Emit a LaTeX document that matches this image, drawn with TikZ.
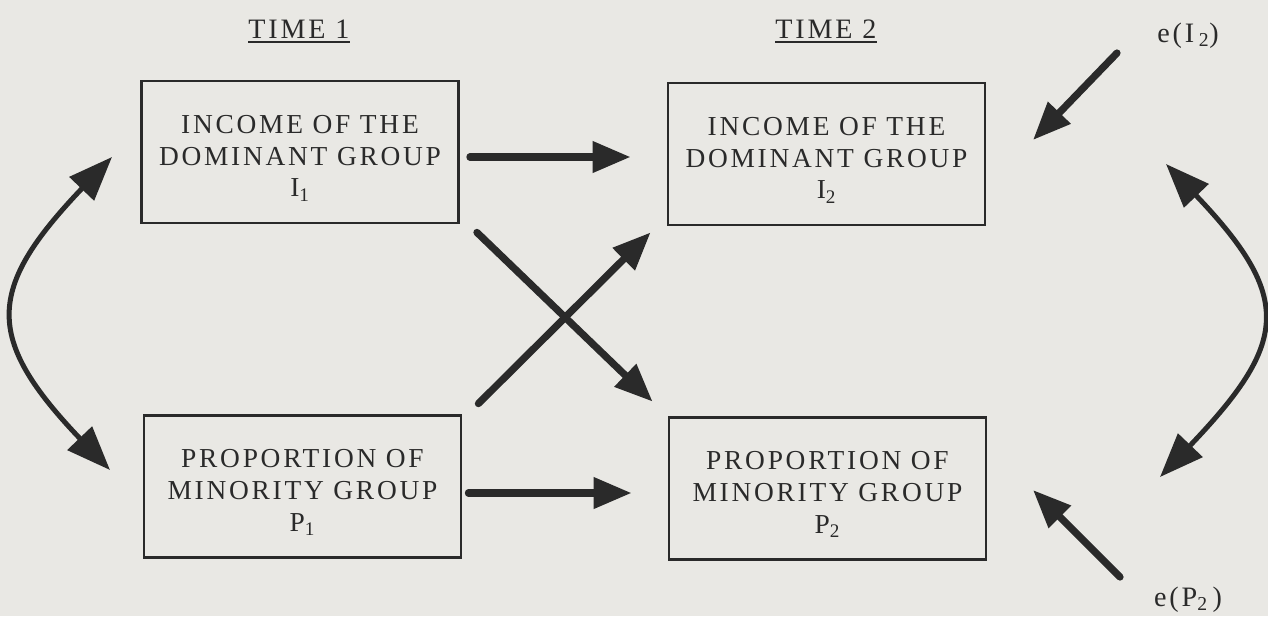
\documentclass[tikz,border=0pt]{standalone}
\usepackage{fontspec}
\setmainfont{Liberation Serif}
\newfontfamily\figfont[LetterSpace=10]{Liberation Serif}
\usetikzlibrary{arrows.meta}

\definecolor{paper}{HTML}{E9E8E4}
\definecolor{ink}{HTML}{2A2A2A}

% first line of a box sits a bit lower than the centre
\newcommand{\boxtop}{\rule{0pt}{7.6mm}}

\tikzset{
	box/.style={draw=ink, line width=2pt, minimum width=79.25mm, minimum height=35.5mm, inner sep=0pt, align=center, text=ink, font=\figfont\fontsize{19.5}{22.7}\selectfont},
	lbl/.style={anchor=base, inner sep=0pt, text=ink, font=\figfont\fontsize{20}{24}\selectfont},
	arr/.style={draw=ink, line width=1.8mm, line cap=round, -{Triangle[length=9.5mm, width=7.5mm]}},
	curv/.style={draw=ink, line width=1.25mm, {Triangle[length=11mm, width=8.3mm]}-{Triangle[length=11mm, width=8.3mm]}},
}

\begin{document}
\begin{tikzpicture}[x=0.25mm, y=-0.25mm]
	\path [use as bounding box, fill=paper] (0,0) rectangle (1268,616);

	\node [lbl] (T1) at (299,38) {TIME\ 1};
	\node [lbl] (T2) at (826,38) {TIME\ 2};
	\draw [ink, line width=1.5pt] ([yshift=-1mm]T1.base west) -- ([yshift=-1mm]T1.base east);
	\draw [ink, line width=1.5pt] ([yshift=-1mm]T2.base west) -- ([yshift=-1mm]T2.base east);

	\node [box] (I1) at (300,152) {\boxtop INCOME OF THE\\DOMINANT GROUP\\I\textsubscript{1}};
	\node [box] (I2) at (826.5,154) {\boxtop INCOME OF THE\\DOMINANT GROUP\\I\textsubscript{2}};
	\node [box] (P1) at (302.5,486.5) {\boxtop PROPORTION OF\\MINORITY GROUP\\P\textsubscript{1}};
	\node [box] (P2) at (827.5,488.5) {\boxtop PROPORTION OF\\MINORITY GROUP\\P\textsubscript{2}};

	\node [lbl] (EI) at (1188,42) {e(I\,\textsubscript{2})};
	\node [lbl] (EP) at (1188,606) {e(P\textsubscript{2}\,)};

	\coordinate (A) at (1117,53);
	\coordinate (B) at (1033,140);
	\coordinate (C) at (1120,577);
	\coordinate (D) at (1033,490);
	\coordinate (E) at (112,157);
	\coordinate (F) at (110,470);
	\coordinate (G) at (1166,164);
	\coordinate (H) at (1160,477);

	\draw [arr] ([shift={(10,5)}]I1.east) -- ([shift={(-36,3)}]I2.west);
	\draw [arr] ([shift={(6,6.5)}]P1.east) -- ([shift={(-36,4.5)}]P2.west);
	\draw [arr] ([shift={(17,8)}]I1.south east) -- ([shift={(-15,-14.5)}]P2.north west);
	\draw [arr] ([shift={(16,-10.5)}]P1.north east) -- ([shift={(-16,6)}]I2.south west);

	\draw [arr] (A) -- (B);
	\draw [arr] (C) -- (D);

	\draw [curv] (E) .. controls (-14,289) and (-16,338) .. (F);
	\draw [curv] (G) .. controls (1294,298) and (1288,343) .. (H);
\end{tikzpicture}
\end{document}
